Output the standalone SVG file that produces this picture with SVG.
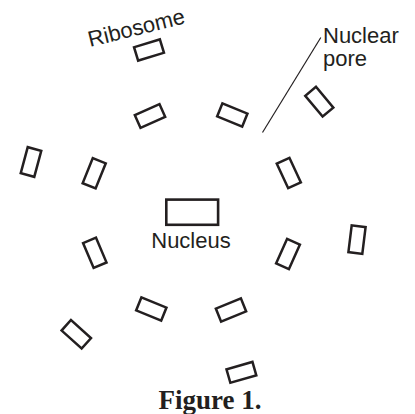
<svg xmlns="http://www.w3.org/2000/svg" width="415" height="414" viewBox="0 0 415 414">
  <defs>
    <style>
      .rib { fill: none; stroke: #231f20; stroke-width: 2.5; }
      .nuc { fill: none; stroke: #231f20; stroke-width: 2.6; }
      .lbl { font-family: "Liberation Sans", Arial, sans-serif; font-size: 22px; fill: #231f20; }
      .cap { font-family: "Liberation Serif", "Times New Roman", serif; font-size: 27px; font-weight: bold; fill: #231f20; }
      .lead { stroke: #231f20; stroke-width: 1.2; fill: none; }
    </style>
    <rect id="r" x="-13.5" y="-7" width="27" height="14"/>
  </defs>
  <rect width="415" height="414" fill="#ffffff"/>

  <g id="ribosomes">
    <g id="rib1"><use href="#r" class="rib" transform="translate(149,50) rotate(-17)"/></g>
    <g id="rib2"><use href="#r" class="rib" transform="translate(150,116) rotate(-24)"/></g>
    <g id="rib3"><use href="#r" class="rib" transform="translate(31,162) rotate(105)"/></g>
    <g id="rib4"><use href="#r" class="rib" transform="translate(94.2,173.3) rotate(112)"/></g>
    <g id="rib5"><use href="#r" class="rib" transform="translate(319.3,101.7) rotate(50)"/></g>
    <g id="rib6"><use href="#r" class="rib" transform="translate(232.3,115) rotate(22)"/></g>
    <g id="rib7"><use href="#r" class="rib" transform="translate(288.8,173) rotate(65)"/></g>
    <g id="rib8"><use href="#r" class="rib" transform="translate(94.8,252.8) rotate(67)"/></g>
    <g id="rib9"><use href="#r" class="rib" transform="translate(151.3,309) rotate(22)"/></g>
    <g id="rib10"><use href="#r" class="rib" transform="translate(76.3,334.3) rotate(42)"/></g>
    <g id="rib11"><use href="#r" class="rib" transform="translate(288,254) rotate(114)"/></g>
    <g id="rib12"><use href="#r" class="rib" transform="translate(357,239.6) rotate(97)"/></g>
    <g id="rib13"><use href="#r" class="rib" transform="translate(231,310) rotate(-22)"/></g>
    <g id="rib14"><use href="#r" class="rib" transform="translate(241.4,372.3) rotate(-16)"/></g>
  </g>

  <g id="nucleus">
    <rect class="nuc" x="166.3" y="199.6" width="51.8" height="25.2"/>
    <text class="lbl" x="191" y="248" text-anchor="middle">Nucleus</text>
  </g>

  <g id="ribosome-label">
    <text class="lbl" x="90" y="47" transform="rotate(-14 90 47)">Ribosome</text>
  </g>

  <g id="nuclear-pore-label">
    <text class="lbl" x="323" y="43">Nuclear</text>
    <text class="lbl" x="323" y="66">pore</text>
  </g>

  <g id="connectors">
    <line class="lead" x1="320.8" y1="37.5" x2="262.5" y2="132.5"/>
  </g>

  <g id="caption">
    <text class="cap" x="210" y="409" text-anchor="middle">Figure 1.</text>
  </g>
</svg>
